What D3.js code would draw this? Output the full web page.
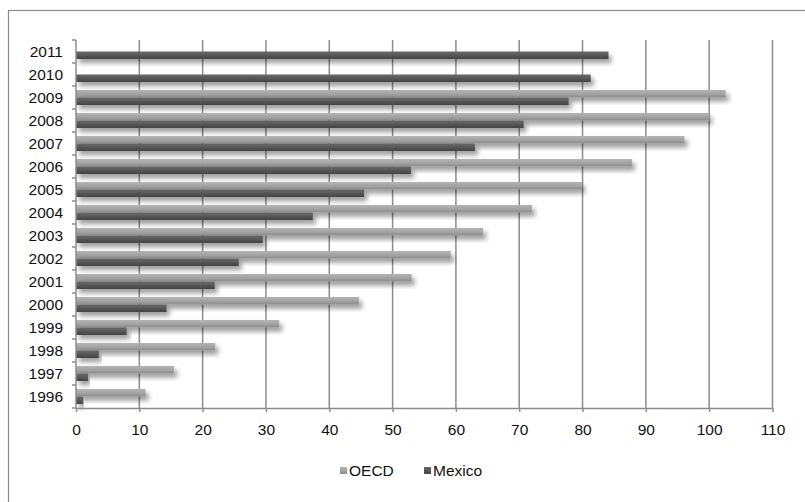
<!DOCTYPE html>
<html>
<head>
<meta charset="utf-8">
<script src="https://cdn.jsdelivr.net/npm/d3@7"></script>
<style>
  html, body { margin: 0; padding: 0; background: #fff; }
  svg { display: block; font-family: "Liberation Sans", Arial, sans-serif; }
</style>
</head>
<body>
<svg id="chart" width="805" height="502"></svg>
<script>
// Years on the vertical axis, newest at the top
const years = ["1996","1997","1998","1999","2000","2001","2002","2003","2004","2005","2006","2007","2008","2009","2010","2011"];
const seriesNames = ["OECD", "Mexico"];
const oecdValues   = [11.0, 15.5, 22.0, 32.1, 44.7, 53.0, 59.2, 64.3, 72.0, 79.9, 87.8, 96.1, 100.0, 102.6, null, null];
const mexicoValues = [1.1, 1.9, 3.6, 8.0, 14.3, 21.9, 25.7, 29.5, 37.4, 45.5, 52.9, 63.0, 70.7, 77.8, 81.3, 84.1];
const xTicks = [0, 10, 20, 30, 40, 50, 60, 70, 80, 90, 100, 110];

const svg = d3.select("#chart");
const plot = { left: 76, right: 772.5, top: 40, bottom: 408 };
const fontSize = 15.5;

const defs = svg.append("defs");
// Bar gradients (lighter at the top edge, darker below)
const gOecd = defs.append("linearGradient").attr("id", "gradOecd").attr("x1", 0).attr("y1", 0).attr("x2", 0).attr("y2", 1);
gOecd.append("stop").attr("offset", "0%").attr("stop-color", "#b4b4b4");
gOecd.append("stop").attr("offset", "55%").attr("stop-color", "#a2a2a2");
gOecd.append("stop").attr("offset", "100%").attr("stop-color", "#8c8c8c");
const gMex = defs.append("linearGradient").attr("id", "gradMex").attr("x1", 0).attr("y1", 0).attr("x2", 0).attr("y2", 1);
gMex.append("stop").attr("offset", "0%").attr("stop-color", "#6a6a6a");
gMex.append("stop").attr("offset", "55%").attr("stop-color", "#555555");
gMex.append("stop").attr("offset", "100%").attr("stop-color", "#444444");
// Soft shadow under each bar
const shadow = defs.append("filter").attr("id", "barShadow")
  .attr("x", "-5%").attr("y", "-60%").attr("width", "115%").attr("height", "260%");
shadow.append("feGaussianBlur").attr("in", "SourceAlpha").attr("stdDeviation", 2.4).attr("result", "blur");
shadow.append("feOffset").attr("in", "blur").attr("dx", 2.5).attr("dy", 3.5).attr("result", "off");
shadow.append("feComponentTransfer").attr("in", "off").attr("result", "soft")
  .append("feFuncA").attr("type", "linear").attr("slope", 0.4);
const merge = shadow.append("feMerge");
merge.append("feMergeNode").attr("in", "soft");
merge.append("feMergeNode").attr("in", "SourceGraphic");

// Outer chart frame
svg.append("rect").attr("x", 8.5).attr("y", 10.5).attr("width", 820).attr("height", 520)
  .attr("fill", "none").attr("stroke", "#8a8a8a").attr("stroke-width", 1.2);

const x = d3.scaleLinear().domain([0, 110]).range([plot.left, plot.right]);
const y = d3.scaleBand().domain(years.slice().reverse()).range([plot.top, plot.bottom]).paddingInner(0).paddingOuter(0);
const inner = d3.scaleBand().domain(seriesNames).range([4, y.bandwidth() - 4]);

// Vertical gridlines
svg.append("g").selectAll("line").data(xTicks.slice(1)).join("line")
  .attr("x1", d => x(d)).attr("x2", d => x(d))
  .attr("y1", plot.top).attr("y2", plot.bottom)
  .attr("stroke", "#8c8c8c").attr("stroke-width", 1.5);

// Bars
const rows = years.map((yr, i) => ({ year: yr, values: [oecdValues[i], mexicoValues[i]] }));
const fills = { OECD: "url(#gradOecd)", Mexico: "url(#gradMex)" };
const barsG = svg.append("g");
rows.forEach(r => {
  seriesNames.forEach((s, j) => {
    const v = r.values[j];
    if (v == null) return;
    barsG.append("rect")
      .attr("x", x(0))
      .attr("y", y(r.year) + inner(s))
      .attr("width", x(v) - x(0))
      .attr("height", inner.bandwidth())
      .attr("fill", fills[s])
      .attr("filter", "url(#barShadow)");
  });
});

// X axis
const xAxis = svg.append("g").attr("transform", `translate(0,${plot.bottom})`)
  .call(d3.axisBottom(x).tickValues(xTicks).tickSize(4).tickPadding(12).tickFormat(d3.format("d")));
xAxis.select(".domain").attr("stroke", "#8c8c8c").attr("stroke-width", 1.5).attr("d", `M${plot.left},0.5H${plot.right}`);
xAxis.selectAll(".tick line").attr("stroke", "#8c8c8c").attr("stroke-width", 1.5);
xAxis.selectAll("text").attr("font-size", fontSize).attr("fill", "#111");

// Y axis (ticks at category boundaries)
const yAxisG = svg.append("g").attr("transform", `translate(${plot.left},0)`);
yAxisG.append("line").attr("x1", 0).attr("x2", 0).attr("y1", plot.top).attr("y2", plot.bottom)
  .attr("stroke", "#8c8c8c").attr("stroke-width", 1.5);
const boundaries = d3.range(years.length + 1).map(i => plot.top + i * y.step());
yAxisG.selectAll("line.tk").data(boundaries).join("line").attr("class", "tk")
  .attr("x1", -4).attr("x2", 0).attr("y1", d => d).attr("y2", d => d)
  .attr("stroke", "#8c8c8c").attr("stroke-width", 1.5);
yAxisG.selectAll("text").data(years).join("text")
  .attr("x", -13).attr("y", d => y(d) + y.bandwidth() / 2)
  .attr("dy", "0.35em").attr("text-anchor", "end")
  .attr("font-size", fontSize).attr("fill", "#111").text(d => d);

// Legend
const legend = svg.append("g").attr("transform", "translate(340,471)");
const legendItems = [{ name: "OECD", fill: fills.OECD, dx: 0 }, { name: "Mexico", fill: fills.Mexico, dx: 84 }];
legendItems.forEach(it => {
  const g = legend.append("g").attr("transform", `translate(${it.dx},0)`);
  g.append("rect").attr("x", 0).attr("y", -4).attr("width", 7).attr("height", 7).attr("fill", it.fill);
  g.append("text").attr("x", 9).attr("y", 0).attr("dy", "0.35em")
    .attr("font-size", fontSize).attr("fill", "#111").text(it.name);
});
</script>
</body>
</html>
